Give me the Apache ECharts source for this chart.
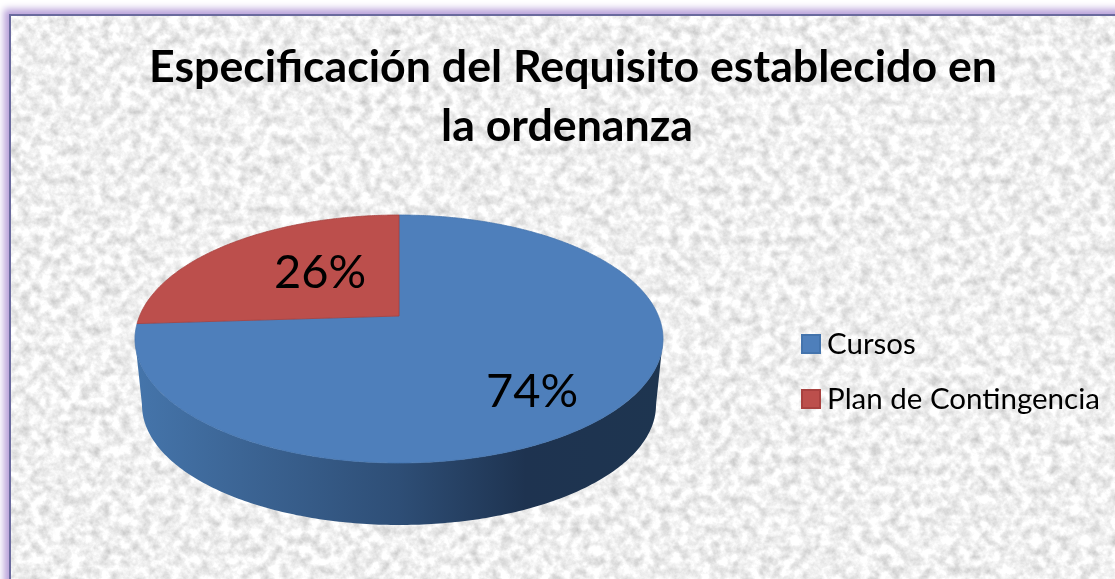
<!DOCTYPE html>
<html><head><meta charset="utf-8">
<style>
html,body{margin:0;padding:0;width:1115px;height:579px;overflow:hidden;background:#fff}
#frame{position:absolute;left:9px;top:14px;width:1200px;height:700px;box-sizing:border-box;border-left:2px solid #6a6a9e;border-top:2px solid #6a6a9e;box-shadow:-1px -1px 7px 4px #b9a2da;
background-image:url("data:image/svg+xml;utf8,<svg xmlns='http://www.w3.org/2000/svg' width='1200' height='700'><filter id='n' x='0' y='0' width='100%' height='100%' color-interpolation-filters='sRGB'><feTurbulence type='fractalNoise' baseFrequency='0.1' numOctaves='4' seed='7'/><feColorMatrix type='matrix' values='0.36 0 0 0 0.76  0.36 0 0 0 0.76  0.36 0 0 0 0.76  0 0 0 0 1'/></filter><rect width='1200' height='700' filter='url(%23n)'/></svg>");}
#main{position:absolute;left:0;top:0;width:1115px;height:579px}
</style></head><body>
<div id="frame"></div>
<div id="main"></div>
<script src="https://cdn.jsdelivr.net/npm/echarts@6/dist/echarts.min.js"></script>
<script>
var titleLines = ['Especificación del Requisito establecido en', 'la ordenanza'];
var categories = ['Cursos', 'Plan de Contingencia'];
var values = [74, 26];
var colors = ['#4e7fbb', '#bc4f4c'];
var edges = ['#4474ad', '#a8413f'];

var total = values[0] + values[1];
var chart = echarts.init(document.getElementById('main'), null, {renderer: 'canvas'});

// Perspective projection of the pie's unit circle onto the screen
function topPoint(u, v) {
  var d = 0.1855 * v + 1;
  return [399 + 259.4 * u / d, (-61.1 * v + 316) / d];
}
function arcPoints(from, to) {
  var pts = [], n = Math.max(2, Math.round(Math.abs(to - from) * 120));
  for (var i = 0; i <= n; i++) {
    var t = from + (to - from) * i / n;
    pts.push(topPoint(Math.sin(t), Math.cos(t)));
  }
  return pts;
}
function wallPoints() {
  var pts = [], i, t, n = 200;
  // visible front edge of the top face, left to right
  var s = Math.PI * 2 - Math.acos(-0.1855), e = Math.acos(-0.1855);
  for (i = 0; i <= n; i++) {
    t = s + (e - s) * i / n;
    pts.push(topPoint(Math.sin(t), Math.cos(t)));
  }
  // lower rim, right to left
  for (i = 0; i <= n; i++) {
    t = Math.PI * i / n;
    pts.push([399 + 257 * Math.cos(t), 405 + 120 * Math.sin(t)]);
  }
  return pts;
}
function startAngle(index) {
  // blue runs clockwise from 12 o'clock, red fills the rest
  return index === 0 ? 0 : values[0] / total * Math.PI * 2;
}
var labelPos = [[532, 392], [320, 273]];

function renderSlice(index) {
  return function (params, api) {
    var frac = api.value(0) / total;
    var s = startAngle(index), e = s + frac * Math.PI * 2;
    var pts = [topPoint(0, 0)].concat(arcPoints(s, e));
    var children = [];
    if (index === 0) {
      children.push({
        type: 'polygon', shape: {points: wallPoints()},
        style: {
          fill: new echarts.graphic.LinearGradient(0, 0, 1, 0, [
            {offset: 0, color: '#4575ab'},
            {offset: 0.2, color: '#3c6595'},
            {offset: 0.5, color: '#2e4e76'},
            {offset: 0.74, color: '#1e3350'},
            {offset: 1, color: '#1e3550'}
          ]),
          stroke: null
        }
      });
    }
    children.push({
      type: 'polygon', shape: {points: pts},
      style: {fill: colors[index], stroke: edges[index], lineWidth: 0.8}
    });
    children.push({
      type: 'text',
      style: {
        text: Math.round(frac * 100) + '%',
        x: labelPos[index][0], y: labelPos[index][1],
        align: 'center', verticalAlign: 'middle',
        font: '47px Lato', fill: '#000'
      },
      z2: 20
    });
    return {type: 'group', children: children};
  };
}

var titleStyle = {fontFamily: 'Lato', fontWeight: 'bold', fontSize: 44.7, lineHeight: 59, color: '#000'};
chart.setOption({
  animation: false,
  backgroundColor: 'transparent',
  title: [
    {text: titleLines[0], left: 568, top: 33, textAlign: 'center', textStyle: titleStyle},
    {text: titleLines[1], left: 562, top: 92, textAlign: 'center', textStyle: titleStyle}
  ],
  legend: {
    orient: 'vertical', left: 796, top: 321, icon: 'rect',
    itemWidth: 18, itemHeight: 18, itemGap: 19,
    selectedMode: false,
    data: categories,
    textStyle: {fontFamily: 'Lato', fontSize: 29.5, color: '#000', padding: [0, 0, 0, 2], lineHeight: 36}
  },
  series: [0, 1].map(function (i) {
    return {
      type: 'custom', name: categories[i], coordinateSystem: 'none',
      silent: true,
      itemStyle: {color: colors[i], borderColor: edges[i], borderWidth: 1},
      z: i === 0 ? 2 : 3,
      renderItem: renderSlice(i),
      data: [[values[i]]]
    };
  })
});
</script>
</body></html>
